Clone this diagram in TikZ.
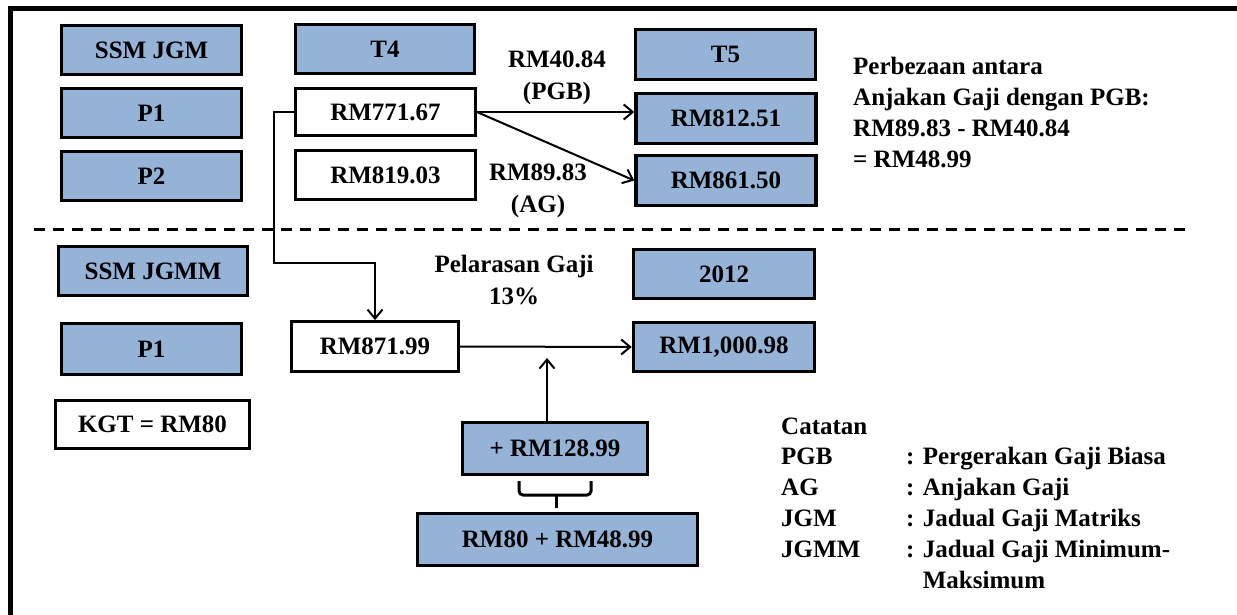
\documentclass[tikz,border=0pt]{standalone}
\usepackage{fontspec}
\setmainfont{Liberation Serif}
\usetikzlibrary{arrows.meta,calc}
\definecolor{boxblue}{RGB}{149,179,215}
\begin{document}
\begin{tikzpicture}[x=1pt,y=-1pt,
  every node/.style={font=\fontsize{25}{30}\selectfont\bfseries, inner sep=0pt},
  bluebox/.style 2 args={draw=black, line width=3.5pt, fill=boxblue, minimum width=#1, minimum height=#2},
  whitebox/.style 2 args={draw=black, line width=2.8pt, fill=white, minimum width=#1, minimum height=#2},
  conn/.style={line width=2pt, -{Straight Barb[length=9pt,width=15pt]}},
  lbl/.style={align=center, font=\fontsize{25}{32}\selectfont\bfseries},
  notes/.style={align=left, anchor=west, font=\fontsize{25}{30.8}\selectfont\bfseries},
]
\useasboundingbox (0,0) rectangle (1237,615);
\fill[white] (0,0) rectangle (1237,615);
% frame
\draw[line width=5pt] (10.5,615) -- (10.5,9) -- (1237,9);
% divider
\draw[line width=3pt, dash pattern=on 11pt off 8pt] (34,229) -- (1186,229);

% upper left column
\node[bluebox={180pt}{49pt}] (ssmjgm) at (151.5,50) {SSM JGM};
\node[bluebox={180pt}{49pt}] (p1a) at (151.5,113) {P1};
\node[bluebox={180pt}{49pt}] (p2) at (151.5,176) {P2};
% T4 column
\node[bluebox={179pt}{49pt}] (t4) at (385,49) {T4};
\node[whitebox={180pt}{47pt}] (r771) at (385.5,112) {RM771.67};
\node[whitebox={180pt}{49pt}] (r819) at (385.5,175) {RM819.03};
% T5 column
\node[bluebox={180pt}{50pt}] (t5) at (725.5,54.5) {T5};
\node[bluebox={180pt}{50pt}] (r812) at (726,118.5) {RM812.51};
\node[bluebox={180pt}{50pt}] (r861) at (726,180.5) {RM861.50};

% lower left column
\node[bluebox={189pt}{49pt}] (ssmjgmm) at (153,271) {SSM JGMM};
\node[bluebox={180pt}{51pt}] (p1b) at (151.5,349) {P1};
\node[whitebox={194pt}{48pt}] (kgt) at (152.5,424.5) {KGT = RM80};
% lower middle
\node[whitebox={167pt}{50pt}] (r871) at (375,346.5) {RM871.99};
\node[bluebox={181pt}{49pt}] (y2012) at (724,274) {2012};
\node[bluebox={181pt}{49pt}] (r1000) at (724,347) {RM1,000.98};
\node[bluebox={185pt}{52pt}] (plus) at (555,448.5) {+ RM128.99};
\node[bluebox={280pt}{52pt}] (sum) at (557.5,539.5) {RM80 + RM48.99};

% labels
\node[lbl] (l40) at (557,78) {RM40.84\\(PGB)};
\node[lbl] (l89) at (538,191) {RM89.83\\(AG)};
\node[lbl] (lpel) at (514,280) {Pelarasan Gaji\\13\%};
\node[notes] (perb) at (853,112.5) {Perbezaan antara\\Anjakan Gaji dengan PGB:\\RM89.83 - RM40.84\\= RM48.99};
\node[notes] (cat) at (781,503) {Catatan\\
\makebox[125pt][l]{PGB}: Pergerakan Gaji Biasa\\
\makebox[125pt][l]{AG}: Anjakan Gaji\\
\makebox[125pt][l]{JGM}: Jadual Gaji Matriks\\
\makebox[125pt][l]{JGMM}: Jadual Gaji Minimum-\\
\makebox[125pt][l]{}\phantom{: }Maksimum};

% connectors
\draw[conn] (r771.east) -- (r771.east -| r812.west);
\draw[conn] (r771.east) -- (r861.west);
\coordinate (e1) at (274,263);
\draw[conn] (r771.west) -| (e1) -- (e1 -| r871.north) -- (r871.north);
\draw[conn] (r871.east) -- (r1000.west);
\coordinate (upend) at (547,358);
\draw[conn] (plus.north -| upend) -- (upend);
% brace
\draw[line width=3pt, rounded corners=4pt] (519,481) -- (519,495) -- (591,495) -- (591,481);
\draw[line width=3pt] (556,495) -- (556,508);
\end{tikzpicture}
\end{document}
